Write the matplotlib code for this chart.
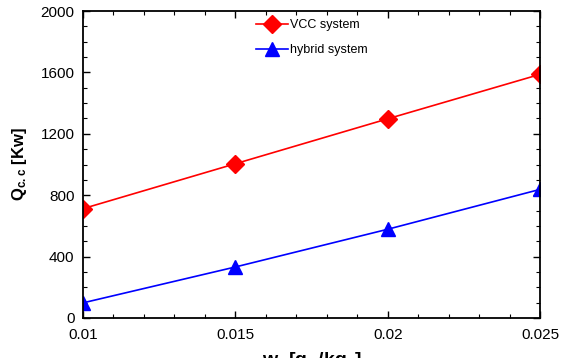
import matplotlib.pyplot as plt
from matplotlib.ticker import MultipleLocator, AutoMinorLocator

plt.rcParams['font.family'] = ['Liberation Sans', 'DejaVu Sans']
plt.rcParams['mathtext.fontset'] = 'custom'
plt.rcParams['mathtext.rm'] = 'Liberation Sans'
plt.rcParams['mathtext.bf'] = 'Liberation Sans:bold'

# humidity ratio values and cooling coil loads
humidity = [0.01, 0.015, 0.02, 0.025]
vcc_load = [712, 1005, 1298, 1588]
hybrid_load = [98, 332, 578, 838]

fig = plt.figure(figsize=(5.84, 3.58), dpi=100)
ax = fig.add_axes([0.142, 0.112, 0.783, 0.857])

ax.plot(humidity, vcc_load, color='red', marker='D', markersize=9,
        linewidth=1.2, label='VCC system')
ax.plot(humidity, hybrid_load, color='blue', marker='^', markersize=10,
        linewidth=1.2, label='hybrid system')

ax.set_xlim(0.01, 0.025)
ax.set_ylim(0, 2000)
ax.xaxis.set_minor_locator(AutoMinorLocator(5))
ax.yaxis.set_major_locator(MultipleLocator(400))
ax.yaxis.set_minor_locator(AutoMinorLocator(4))
ax.set_xticks(humidity)
ax.set_xticklabels(['0.01', '0.015', '0.02', '0.025'])

ax.tick_params(which='both', direction='in', top=True, right=True,
               labelsize=11, colors='black')
ax.tick_params(which='major', length=5, width=1)
ax.tick_params(axis='x', which='major', pad=7)
ax.tick_params(axis='y', which='major', pad=6)
ax.tick_params(which='minor', length=3, width=0.8)
for side in ax.spines.values():
    side.set_linewidth(1.3)

ax.set_ylabel(r'$\mathbf{Q_{c.c}}$ [Kw]', fontsize=12, fontweight='bold',
              labelpad=8)
ax.set_xlabel(r'w  [g$_\mathbf{w}$/kg$_\mathbf{a}$]', fontsize=14,
              fontweight='bold', labelpad=6)

ax.legend(loc='upper center', bbox_to_anchor=(0.5, 1.01), frameon=False,
          fontsize=9, handlelength=2.6, handletextpad=0.1, labelspacing=1.05)

fig.savefig('out.png', dpi=100)
